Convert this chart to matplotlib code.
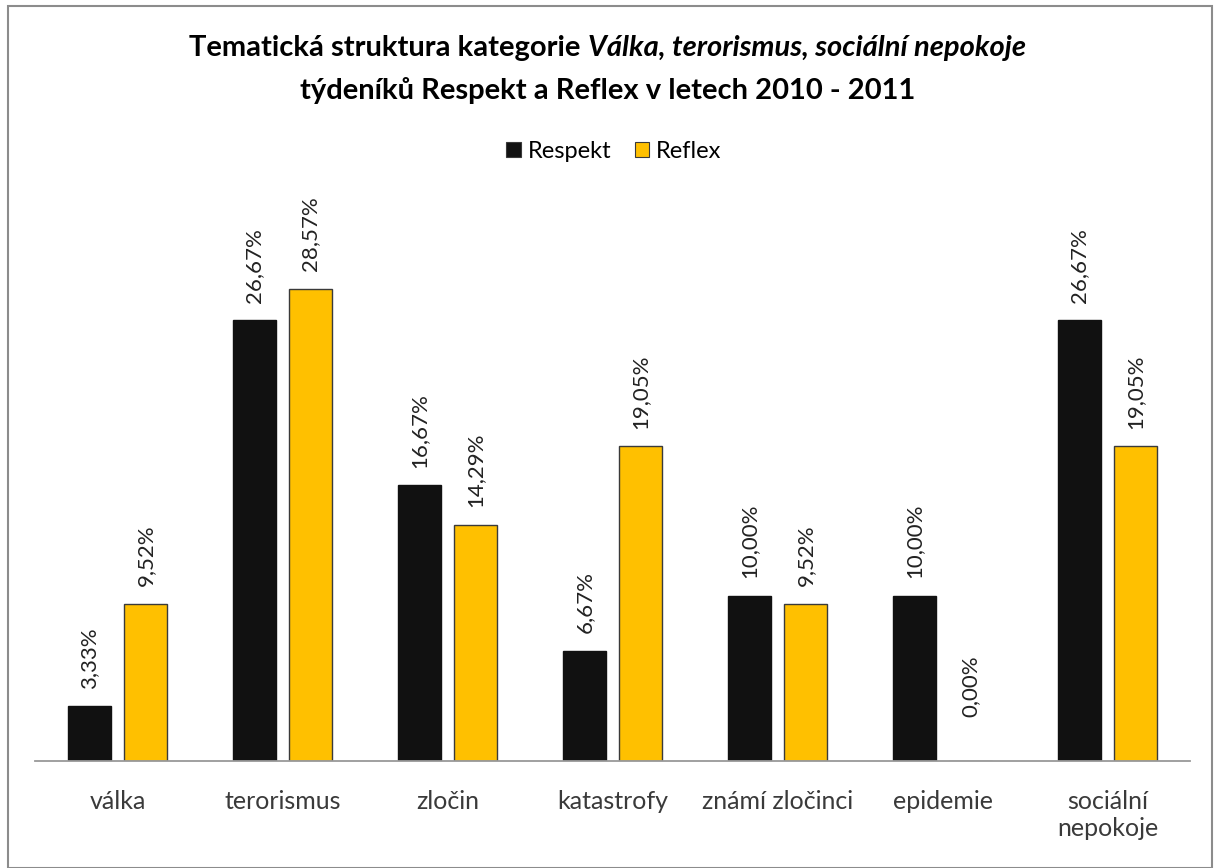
import matplotlib
matplotlib.use("Agg")
import matplotlib.pyplot as plt
from matplotlib.patches import Rectangle
import numpy as np

plt.rcParams['font.family'] = ['Lato', 'DejaVu Sans']

categories = ["válka", "terorismus", "zločin", "katastrofy", "známí zločinci",
              "epidemie", "sociální\nnepokoje"]
respekt = [3.33, 26.67, 16.67, 6.67, 10.00, 10.00, 26.67]
reflex = [9.52, 28.57, 14.29, 19.05, 9.52, 0.00, 19.05]
series_names = ["Respekt", "Reflex"]
colors = ["#111111", "#FFC000"]

W, H = 1215, 868
fig = plt.figure(figsize=(W / 100, H / 100), dpi=100)
ax = fig.add_axes([35 / W, (H - 761) / H, 1155 / W, 496 / H])

x = np.arange(len(categories))
bw = 0.26
off = 0.17
for vals, dx, c in zip([respekt, reflex], [-off, off], colors):
    ax.bar(x + dx, vals, bw, color=c, edgecolor="#3a3a3a" if c != colors[0] else c,
           linewidth=1.0, zorder=2)
    for xi, v in zip(x + dx, vals):
        # excel pushes the label of an empty bar a bit higher
        gap = 1.05 if v > 0 else 2.65
        ax.text(xi, v + gap, f"{v:.2f}%".replace(".", ","), rotation=90,
                ha="center", va="bottom", fontsize=16, color="#222222")

ax.set_xlim(-0.5, len(categories) - 0.5)
ax.set_ylim(0, 30)
ax.set_yticks([])
ax.set_xticks(x)
ax.set_xticklabels(categories, fontsize=18, color="#3a3a3a", linespacing=1.2)
ax.tick_params(axis="x", length=0, pad=21)
for s in ["top", "right", "left"]:
    ax.spines[s].set_visible(False)
ax.spines["bottom"].set_color("#999999")
ax.spines["bottom"].set_linewidth(1.3)

# title with italic part
fig.canvas.draw()
r = fig.canvas.get_renderer()
parts = [("Tematická struktura kategorie ", "normal"),
         ("Válka, terorismus, sociální nepokoje", "italic")]
ts = []
for txt, st in parts:
    t = fig.text(0, 1 - 48 / H, txt, fontsize=21, fontweight="bold", style=st,
                 va="center", ha="left")
    ts.append(t)
widths = [t.get_window_extent(r).width for t in ts]
xpos = (W - sum(widths)) / 2
for t, w in zip(ts, widths):
    t.set_x(xpos / W)
    xpos += w
fig.text(0.5, 1 - 90 / H, "týdeníků Respekt a Reflex v letech 2010 - 2011",
         fontsize=21, fontweight="bold", ha="center", va="center")

# legend
handles = [Rectangle((0, 0), 1, 1, facecolor=c, edgecolor="#3a3a3a", linewidth=0.8)
           for c in colors]
fig.legend(handles, series_names, loc="center", bbox_to_anchor=(614 / W, 1 - 151 / H),
           ncol=2, frameon=False, fontsize=17, handlelength=0.6, handleheight=0.6,
           handletextpad=0.3, columnspacing=1.0)

fig.patches.append(Rectangle((8 / W, 0), 1204 / W, 1 - 6 / H, transform=fig.transFigure,
                             fill=False, edgecolor="#8c8c8c", linewidth=1.5))

fig.savefig("out.png", dpi=100)
